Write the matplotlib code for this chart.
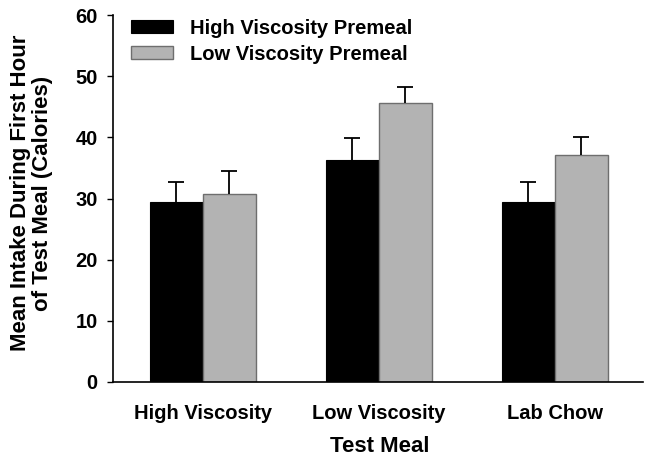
import numpy as np
import matplotlib.pyplot as plt

plt.rcParams['font.family'] = ['Liberation Sans', 'DejaVu Sans']
plt.rcParams['font.weight'] = 'bold'

categories = ["High Viscosity", "Low Viscosity", "Lab Chow"]
high_premeal = [29.5, 36.3, 29.4]
high_err = [3.2, 3.6, 3.3]
low_premeal = [30.7, 45.7, 37.2]
low_err = [3.8, 2.6, 2.9]

x = np.arange(len(categories))
w = 0.30

fig = plt.figure(figsize=(6.46, 4.59), dpi=100)
ax = fig.add_axes([0.175, 0.168, 0.82, 0.799])

ax.bar(x - w / 2, high_premeal, w, color="black", edgecolor="black", linewidth=0.8,
       label="High Viscosity Premeal", zorder=2)
ax.bar(x + w / 2, low_premeal, w, color="#b3b3b3", edgecolor="#6e6e6e", linewidth=1.0,
       label="Low Viscosity Premeal", zorder=2)

# upper-only error bars
for xs, ys, es in [(x - w / 2, high_premeal, high_err), (x + w / 2, low_premeal, low_err)]:
    eb = ax.errorbar(xs, ys, yerr=[np.zeros(3), es], fmt="none", ecolor="black",
                     elinewidth=1.3, capsize=6, capthick=1.3, zorder=3)
    eb[1][0].set_visible(False)

ax.set_xlim(-0.51, 2.5)
ax.set_ylim(0, 60)
ax.set_yticks(range(0, 61, 10))
ax.set_xticks(x)
ax.set_xticklabels(categories, fontsize=14.5, fontweight="bold")
ax.tick_params(axis="x", length=0, pad=16)
ax.tick_params(axis="y", labelsize=14.5, length=4, width=1, pad=7)
for lab in ax.get_yticklabels():
    lab.set_fontweight("bold")

ax.spines["top"].set_visible(False)
ax.spines["right"].set_visible(False)
ax.spines["left"].set_linewidth(1.2)
ax.spines["bottom"].set_linewidth(1.2)

ax.set_xlabel("Test Meal", fontsize=16, fontweight="bold")
ax.xaxis.set_label_coords(0.504, -0.147)
ax.set_ylabel("Mean Intake During First Hour\nof Test Meal (Calories)", fontsize=16,
              fontweight="bold", linespacing=1.05)
ax.yaxis.set_label_coords(-0.113, 0.515)

ax.legend(loc="upper left", bbox_to_anchor=(0.0, 1.04), frameon=False, fontsize=14.5,
          handlelength=2.1, handleheight=0.55, handletextpad=0.8, labelspacing=0.35)

fig.savefig("out.png", dpi=100)
